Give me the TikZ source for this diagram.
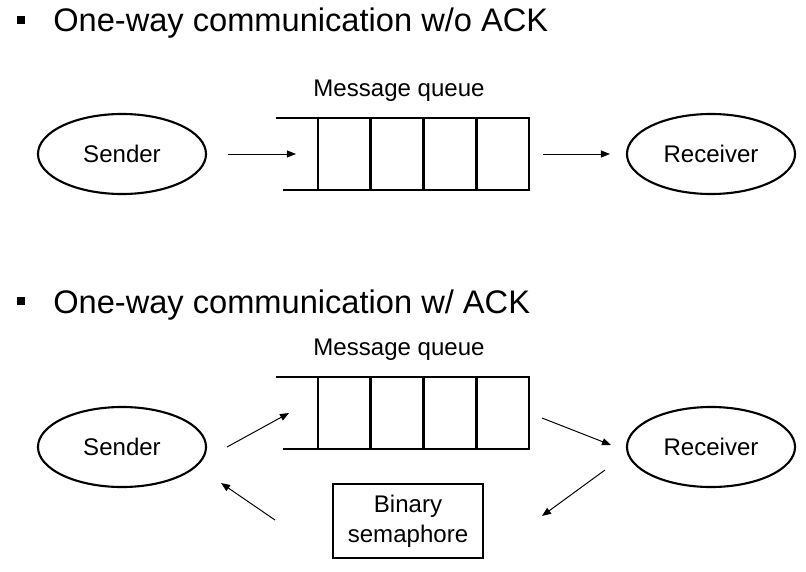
\documentclass[tikz,border=0pt]{standalone}
\usepackage{fontspec}
\setmainfont{Liberation Sans}
\usetikzlibrary{shapes.geometric, arrows.meta}

\begin{document}
\begin{tikzpicture}[
        x=0.025cm, y=-0.025cm,
        party/.style={ellipse, draw=black, line width=1.5pt, minimum width=4.2cm, minimum height=2cm, inner sep=0pt, font=\fontsize{17.1}{20.6}\selectfont},
        queue/.style={rectangle, draw=black, line width=1.9pt, minimum width=5.275cm, minimum height=1.8cm, inner sep=0pt, outer sep=0pt},
        qline/.style={draw=black, line width=1.9pt},
        sema/.style={rectangle, draw=black, line width=1.5pt, minimum width=3.75cm, minimum height=1.85cm, align=center, font=\fontsize{17.1}{21.2}\selectfont},
        label/.style={font=\fontsize{17.1}{20.6}\selectfont},
        title/.style={anchor=base west, inner sep=0pt, font=\fontsize{23.2}{28}\selectfont},
        bullet/.style={rectangle, fill=black, minimum width=0.175cm, minimum height=0.19cm, inner sep=0pt},
        arr/.style={-{Triangle[length=6.4pt,width=5pt]}, line width=0.7pt},
      ]

      \useasboundingbox (0,0) rectangle (806,571);

      \node[bullet] (b1) at (21,20) {};
      \node[title] (t1) at (53,32) {One-way communication w/o ACK};

      \node[party] (s1) at (122,154) {Sender};
      \node[party] (r1) at (711,154) {Receiver};
      \node[queue] (q1) at (423.5,154) {};
      \node[label] (m1) at (399,91) {Message queue};

      \draw[qline] (q1.north west) -- ++(-42,0);
      \draw[qline] (q1.south west) -- ++(-35,0);
      \foreach \i in {1,2,3}
        \draw[qline] (q1.north west) ++(\i*52.75,0) -- ++(0,72);

      \draw[arr, shorten <=0.525cm, shorten >=0.55cm] (s1) -- (q1);
      \draw[arr, shorten <=0.35cm, shorten >=0.4cm] (q1) -- (r1);

      \node[bullet] (b2) at (21,301) {};
      \node[title] (t2) at (53,313) {One-way communication w/ ACK};

      \node[party] (s2) at (122,447) {Sender};
      \node[party] (r2) at (711,447) {Receiver};
      \node[queue] (q2) at (423.5,413) {};
      \node[label] (m2) at (399,350) {Message queue};
      \node[sema] (bs) at (408,521) {Binary\\semaphore};

      \draw[qline] (q2.north west) -- ++(-42,0);
      \draw[qline] (q2.south west) -- ++(-35,0);
      \foreach \i in {1,2,3}
        \draw[qline] (q2.north west) ++(\i*52.75,0) -- ++(0,72);

      \coordinate (s2out) at (227,447);
      \coordinate (q2in) at (289,413);
      \coordinate (q2out) at (542,418);
      \coordinate (r2in) at (611,445);
      \coordinate (r2out) at (605,470);
      \coordinate (bsin) at (542,516);
      \coordinate (bsout) at (275,520);
      \coordinate (s2in) at (221,483);

      \draw[arr] (s2out) -- (q2in);
      \draw[arr] (q2out) -- (r2in);
      \draw[arr] (r2out) -- (bsin);
      \draw[arr] (bsout) -- (s2in);

    \end{tikzpicture}
\end{document}
